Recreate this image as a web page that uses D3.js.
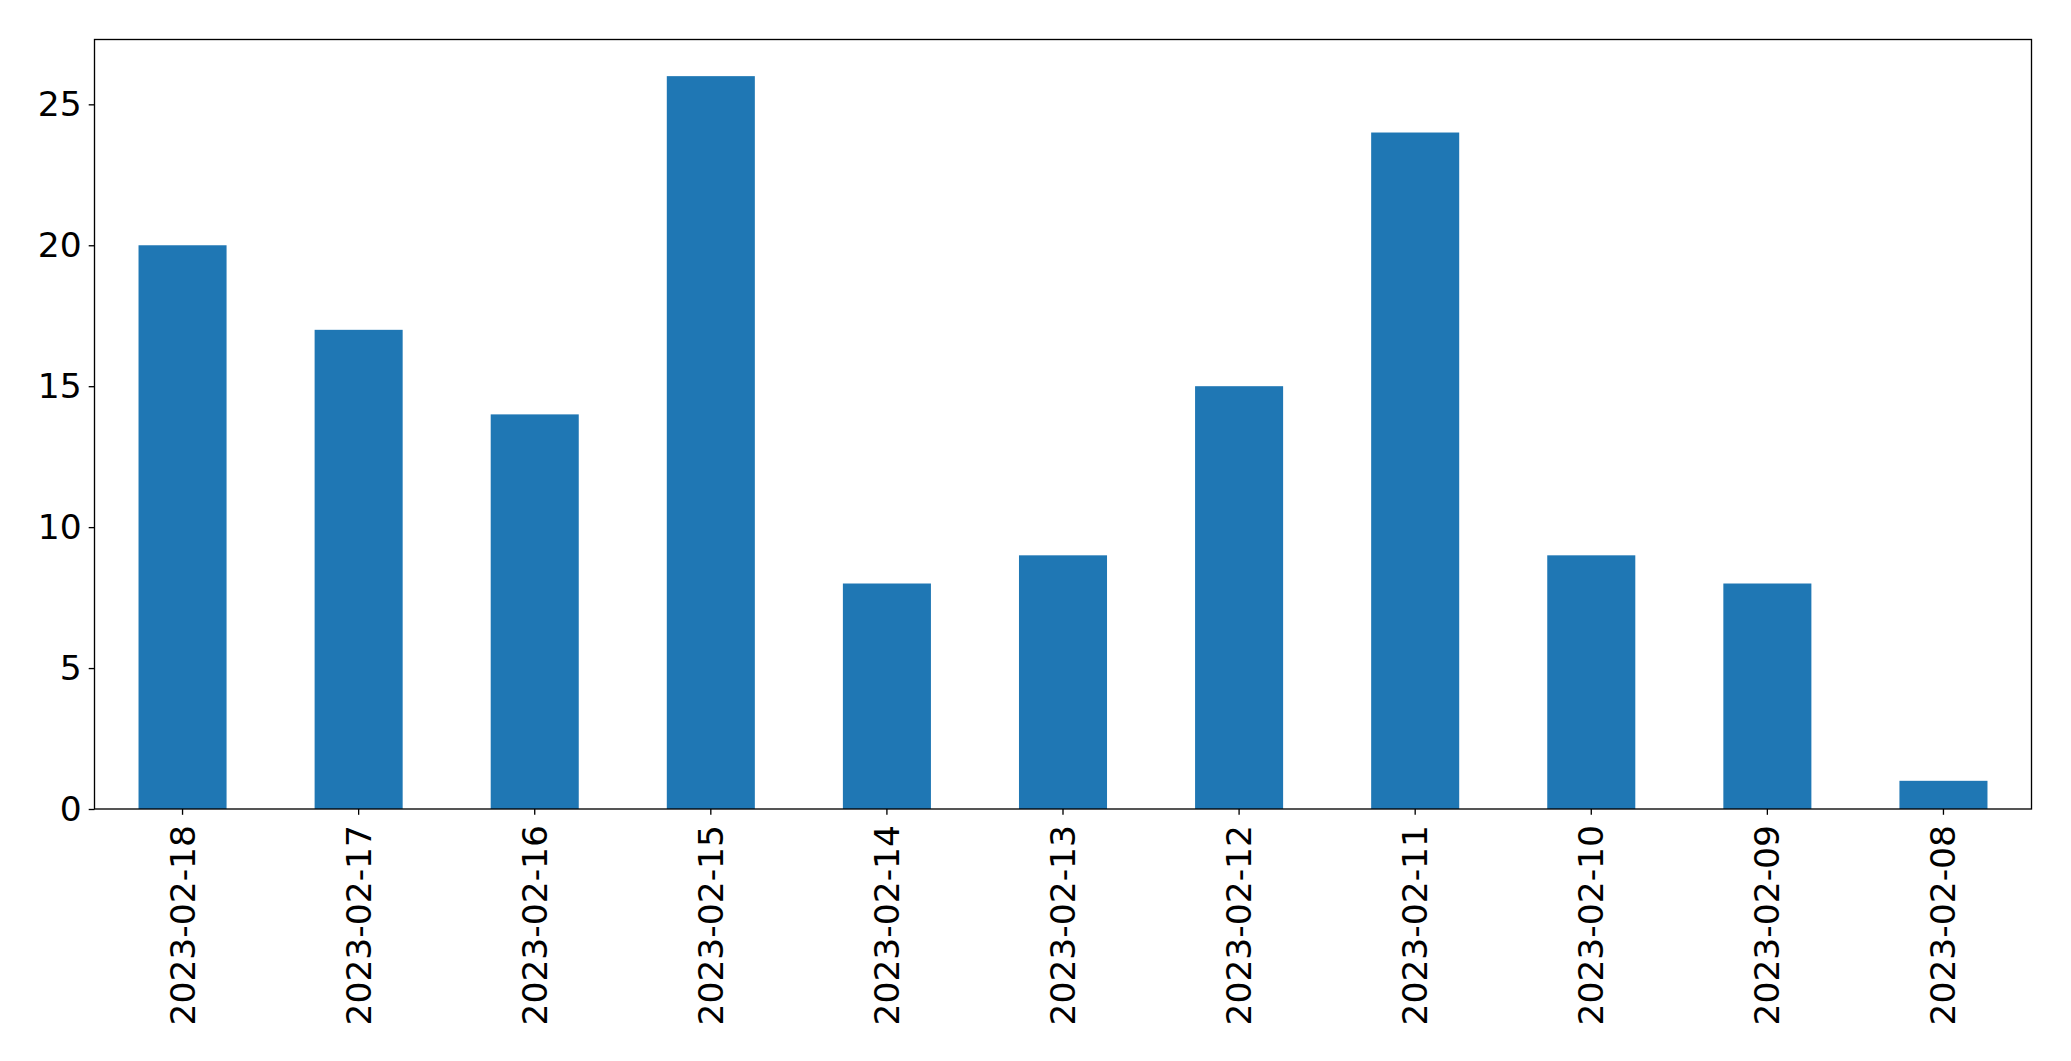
<!DOCTYPE html>
<html><head><meta charset="utf-8">
<script src="https://cdn.jsdelivr.net/npm/d3@7"></script>
<style>body{margin:0;background:#fff;}svg{display:block;}</style>
</head><body>
<script>
const categories = ["2023-02-18","2023-02-17","2023-02-16","2023-02-15","2023-02-14","2023-02-13","2023-02-12","2023-02-11","2023-02-10","2023-02-09","2023-02-08"];
const values = [20,17,14,26,8,9,15,24,9,8,1];
const yTicks = [0,5,10,15,20,25];

const W = 2071, H = 1061;
const m = {left: 94.5, right: 2031.5, top: 39.5, bottom: 809};
const svg = d3.select("body").append("svg").attr("width", W).attr("height", H);

const x = d3.scaleBand().domain(categories).range([m.left, m.right]).paddingInner(0.5).paddingOuter(0.25);
const yMax = d3.max(values) * 1.05;
const y = d3.scaleLinear().domain([0, yMax]).range([m.bottom, m.top]);

svg.append("g").selectAll("rect").data(values).join("rect")
  .attr("x", (d,i) => x(categories[i]))
  .attr("width", x.bandwidth())
  .attr("y", d => y(d))
  .attr("height", d => y(0) - y(d))
  .attr("fill", "#1f77b4");

const font = "'DejaVu Sans', sans-serif";
const fs = "34.5px";

const yAxis = svg.append("g").attr("transform", `translate(${m.left},0)`)
  .call(d3.axisLeft(y).tickValues(yTicks).tickSize(5.8).tickPadding(7).tickFormat(d3.format("d")));
yAxis.select(".domain").remove();
yAxis.selectAll("line").attr("stroke", "#000").attr("stroke-width", 1.33);
yAxis.selectAll("text").attr("font-family", font).attr("font-size", fs).attr("fill", "#000");

const xAxis = svg.append("g").attr("transform", `translate(0,${m.bottom})`)
  .call(d3.axisBottom(x).tickSize(5.8).tickPadding(5.8));
xAxis.select(".domain").remove();
xAxis.selectAll("line").attr("stroke", "#000").attr("stroke-width", 1.33);
xAxis.selectAll("text")
  .attr("font-family", font).attr("font-size", fs).attr("fill", "#000")
  .attr("y", 0).attr("dy", null)
  .attr("text-anchor", "end")
  .attr("dominant-baseline", "central")
  .attr("transform", "translate(0,16) rotate(-90)");

svg.append("rect").attr("x", m.left).attr("y", m.top)
  .attr("width", m.right - m.left).attr("height", m.bottom - m.top)
  .attr("fill", "none").attr("stroke", "#000").attr("stroke-width", 1.33);
</script>
</body></html>
